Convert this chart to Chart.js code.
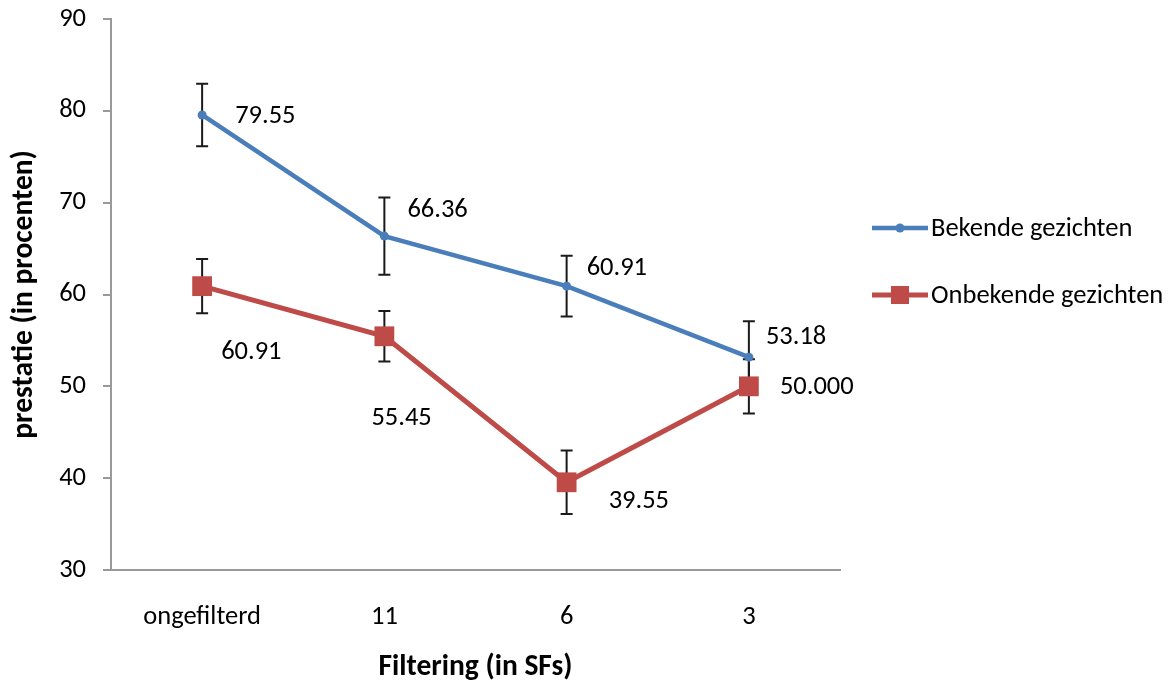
<!DOCTYPE html>
<html lang="nl">
    <head>
        <meta charset="UTF-8">
        <title>Prestatie per filtering</title>
        <script src="https://cdn.jsdelivr.net/npm/chart.js@4.4.1/dist/chart.umd.min.js"></script>
        <style>
            html, body {
                margin: 0;
                padding: 0;
                background: #ffffff;
            }
            #wrap {
                width: 1168px;
                height: 683px;
            }
        </style>
    </head>
    <body>
        <div id="wrap">
            <canvas id="lineChartPrestatie" width="1168" height="683"></canvas>
        </div>
        <script>
            // waarden
            const categories = ["ongefilterd", "11", "6", "3"];
            const bekende = [79.55, 66.36, 60.91, 53.18];
            const onbekende = [60.91, 55.45, 39.55, 50.0];
            const bekendeErr = [3.4, 4.2, 3.3, 3.9];
            const onbekendeErr = [2.95, 2.75, 3.45, 2.95];
            const bekendeLabels = ["79.55", "66.36", "60.91", "53.18"];
            const onbekendeLabels = ["60.91", "55.45", "39.55", "50.000"];
            const yTicks = [30, 40, 50, 60, 70, 80, 90];

            const FONT = "Carlito, Lato, sans-serif";
            const TEXT_SIZE = 26.5;
            const TITLE_SIZE = 29.5;
            const BLUE = "#4a7ebb";
            const RED = "#be4b48";

            // foutbalken onder de lijnen
            const errorBars = {
                id: "errorBars",
                beforeDatasetsDraw(chart) {
                    const ctx = chart.ctx;
                    const y = chart.scales.y;
                    ctx.save();
                    ctx.strokeStyle = "#1a1a1a";
                    ctx.lineWidth = 2;
                    chart.data.datasets.forEach(function (ds, i) {
                        const meta = chart.getDatasetMeta(i);
                        meta.data.forEach(function (pt, j) {
                            const v = ds.data[j];
                            const e = ds.errors[j];
                            const top = y.getPixelForValue(v + e);
                            const bot = y.getPixelForValue(v - e);
                            ctx.beginPath();
                            ctx.moveTo(pt.x, top);
                            ctx.lineTo(pt.x, bot);
                            ctx.moveTo(pt.x - 6, top);
                            ctx.lineTo(pt.x + 6, top);
                            ctx.moveTo(pt.x - 6, bot);
                            ctx.lineTo(pt.x + 6, bot);
                            ctx.stroke();
                        });
                    });
                    ctx.restore();
                }
            };

            // waardelabels en legenda
            const labelsAndLegend = {
                id: "labelsAndLegend",
                afterDraw(chart) {
                    const ctx = chart.ctx;
                    ctx.save();
                    ctx.font = TEXT_SIZE + "px " + FONT;
                    ctx.fillStyle = "#000000";
                    ctx.textAlign = "left";
                    ctx.textBaseline = "middle";
                    chart.data.datasets.forEach(function (ds, i) {
                        const meta = chart.getDatasetMeta(i);
                        meta.data.forEach(function (pt, j) {
                            const off = ds.labelOffsets[j];
                            ctx.fillText(ds.valueLabels[j], pt.x + off[0], pt.y + off[1]);
                        });
                    });
                    // legenda rechts
                    const items = [
                        { ds: chart.data.datasets[0], y: 228 },
                        { ds: chart.data.datasets[1], y: 295 }
                    ];
                    items.forEach(function (it) {
                        ctx.strokeStyle = it.ds.borderColor;
                        ctx.lineWidth = it.ds.borderWidth;
                        ctx.beginPath();
                        ctx.moveTo(872, it.y);
                        ctx.lineTo(928, it.y);
                        ctx.stroke();
                        ctx.fillStyle = it.ds.borderColor;
                        if (it.ds.pointStyle === "rect") {
                            ctx.fillRect(891, it.y - 9, 18, 18);
                        } else {
                            ctx.beginPath();
                            ctx.arc(900, it.y, 4.5, 0, Math.PI * 2);
                            ctx.fill();
                        }
                        ctx.fillStyle = "#000000";
                        ctx.fillText(it.ds.label, 931, it.y + 1);
                    });
                    ctx.restore();
                }
            };

            const ctx = document.getElementById("lineChartPrestatie").getContext("2d");
            const config = {
                type: "line",
                data: {
                    labels: categories,
                    datasets: [
                        {
                            label: "Bekende gezichten",
                            data: bekende,
                            errors: bekendeErr,
                            valueLabels: bekendeLabels,
                            labelOffsets: [[33, 1], [23, -26], [20, -18], [17, -20]],
                            borderColor: BLUE,
                            backgroundColor: BLUE,
                            borderWidth: 4.5,
                            pointStyle: "circle",
                            pointRadius: 4.5,
                            pointBorderWidth: 0,
                            lineTension: 0,
                            order: 1
                        },
                        {
                            label: "Onbekende gezichten",
                            data: onbekende,
                            errors: onbekendeErr,
                            valueLabels: onbekendeLabels,
                            labelOffsets: [[19, 66], [-13, 82], [42, 19], [31, 1]],
                            borderColor: RED,
                            backgroundColor: RED,
                            borderWidth: 5,
                            pointStyle: "rect",
                            pointRadius: 14,
                            pointBorderWidth: 0,
                            lineTension: 0,
                            order: 0
                        }
                    ]
                },
                options: {
                    responsive: false,
                    animation: false,
                    layout: {
                        padding: { top: 19, right: 328, bottom: 0, left: 0 }
                    },
                    plugins: {
                        legend: { display: false },
                        tooltip: { enabled: false }
                    },
                    scales: {
                        x: {
                            offset: true,
                            grid: { display: false },
                            border: { display: true, color: "#999999", width: 2 },
                            ticks: {
                                color: "#000000",
                                font: { family: FONT, size: TEXT_SIZE },
                                padding: 23,
                                maxRotation: 0
                            },
                            title: {
                                display: true,
                                text: "Filtering (in SFs)",
                                color: "#000000",
                                font: { family: FONT, size: TITLE_SIZE, weight: "bold" },
                                padding: { top: 0, bottom: -2 }
                            },
                            afterFit(scale) {
                                scale.height = 113;
                                scale.paddingLeft = 0;
                                scale.paddingRight = 0;
                            }
                        },
                        y: {
                            min: 30,
                            max: 90,
                            afterBuildTicks(scale) {
                                scale.ticks = yTicks.map(function (v) { return { value: v }; });
                            },
                            grid: {
                                drawOnChartArea: false,
                                drawTicks: true,
                                tickLength: 8,
                                color: "#999999",
                                lineWidth: 2
                            },
                            border: { display: true, color: "#999999", width: 2 },
                            ticks: {
                                color: "#000000",
                                font: { family: FONT, size: TEXT_SIZE },
                                padding: 17
                            },
                            title: {
                                display: true,
                                text: "prestatie (in procenten)",
                                color: "#000000",
                                font: { family: FONT, size: TITLE_SIZE, weight: "bold" },
                                padding: { top: 7, bottom: 0 }
                            },
                            afterFit(scale) {
                                scale.width = 111;
                                scale.paddingTop = 0;
                                scale.paddingBottom = 0;
                            }
                        }
                    }
                },
                plugins: [errorBars, labelsAndLegend]
            };
            const prestatieChart = new Chart(ctx, config);
        </script>
    </body>
</html>
